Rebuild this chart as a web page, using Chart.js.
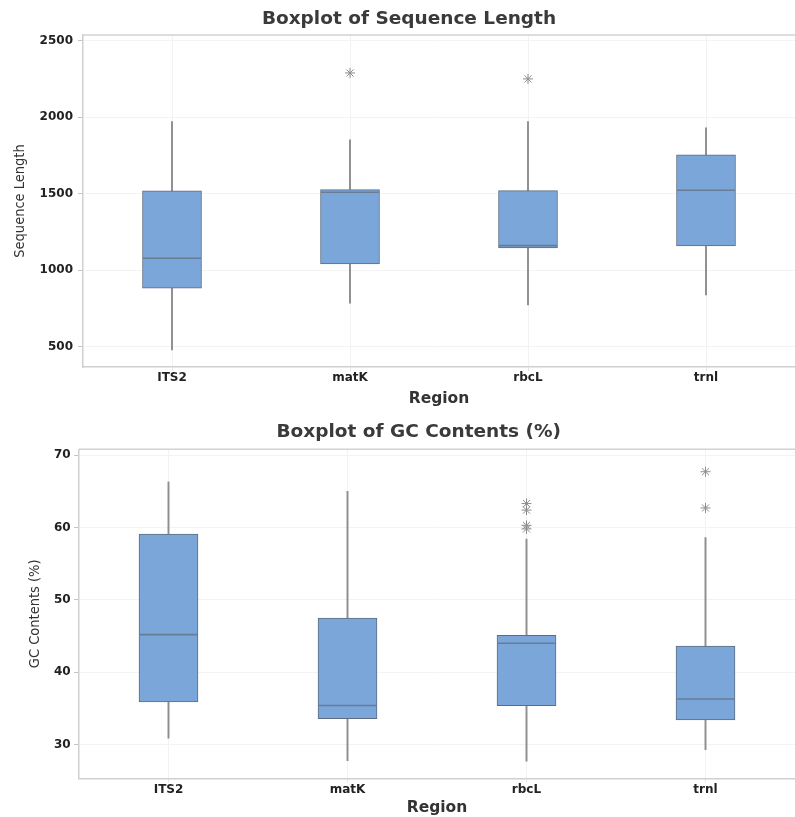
<!DOCTYPE html>
<html>
<head>
<meta charset="utf-8">
<script src="https://cdn.jsdelivr.net/npm/chart.js@4.4.0/dist/chart.umd.min.js"></script>
<style>
  body { margin: 0; background: #fff; }
  canvas { display: block; }
</style>
</head>
<body>
<canvas id="lenChart" width="795" height="410"></canvas>
<canvas id="gcChart" width="795" height="407"></canvas>
<script>
const regions = ['ITS2', 'matK', 'rbcL', 'trnl']

// Sequence length
const lenLow = [478, 784, 772, 838]
const lenQ1 = [882, 1041, 1145, 1158]
const lenMed = [1078, 1509, 1160, 1522]
const lenQ3 = [1518, 1526, 1520, 1753]
const lenHigh = [1971, 1851, 1971, 1931]
const lenOutX = ['matK', 'rbcL']
const lenOutY = [2289, 2250]
const lenTicks = [500, 1000, 1500, 2000, 2500]

// GC contents
const gcLow = [30.9, 27.8, 27.7, 29.3]
const gcQ1 = [35.9, 33.6, 35.4, 33.4]
const gcMed = [45.2, 35.4, 44.0, 36.3]
const gcQ3 = [59.1, 47.5, 45.1, 43.6]
const gcHigh = [66.3, 65.0, 58.4, 58.6]
const gcOutX = ['rbcL', 'rbcL', 'rbcL', 'rbcL', 'trnl', 'trnl']
const gcOutY = [63.3, 62.4, 60.3, 59.8, 67.7, 62.7]
const gcTicks = [30, 40, 50, 60, 70]

// top edge of the plot frame
const frame = {
    id: 'frame',
    afterDraw(chart) {
        const {ctx, chartArea: a} = chart
        ctx.save()
        ctx.strokeStyle = '#d2d2d2'
        ctx.lineWidth = 1.5
        ctx.beginPath()
        ctx.moveTo(a.left, a.top)
        ctx.lineTo(a.right, a.top)
        ctx.stroke()
        ctx.restore()
    }
}

const makeBoxplot = (id, cfg) => {
    const el = document.getElementById(id)
    const whiskers = cfg.low.map((v, i) => [v, cfg.high[i]])
    const boxes = cfg.q1.map((v, i) => [v, cfg.q3[i]])
    const outliers = cfg.outX.map((x, i) => ({x: x, y: cfg.outY[i]}))

    new Chart(el, {
        type: 'bar',
        data: {
          labels: regions,
          datasets: [{
            data: whiskers,
            backgroundColor: '#8f8f8f',
            barThickness: 1.3,
            grouped: false,
            order: 3
          }, {
            data: boxes,
            backgroundColor: '#7ba6d9',
            borderColor: '#5d6c82',
            borderWidth: 1,
            borderSkipped: false,
            barThickness: 59,
            grouped: false,
            order: 2
          }, {
            type: 'line',
            data: cfg.med,
            showLine: false,
            pointStyle: 'line',
            pointRadius: 29,
            pointBorderColor: '#687c96',
            pointBorderWidth: 1.6,
            order: 1
          }, {
            type: 'line',
            data: outliers,
            showLine: false,
            pointStyle: 'star',
            pointRadius: 5,
            pointBorderColor: '#8c8c8c',
            pointBorderWidth: 1,
            order: 0
          }]
        },
        options: {
          responsive: false,
          animation: false,
          events: [],
          layout: { autoPadding: false, padding: { left: cfg.padLeft, right: 0, top: 0, bottom: 0 } },
          plugins: {
            legend: { display: false },
            tooltip: { enabled: false },
            title: {
              display: true,
              text: cfg.title,
              color: '#3a3a3a',
              font: { family: 'DejaVu Sans', size: 18.5, weight: 'bold', lineHeight: 1.2 },
              padding: cfg.titlePad
            }
          },
          scales: {
            x: {
              grid: { offset: false, color: '#f2f2f2', tickColor: '#e6e6e6', tickLength: 4 },
              border: { color: '#d0d0d0', width: 1.5 },
              ticks: {
                color: '#222',
                padding: 0,
                font: { family: 'DejaVu Sans', size: 12, weight: 'bold' }
              },
              title: {
                display: true,
                text: 'Region',
                color: '#333',
                font: { family: 'DejaVu Sans', size: 15.5, weight: 'bold', lineHeight: 1.2 },
                padding: { top: 0, bottom: cfg.regionPad }
              },
              afterFit: (scale) => { scale.height = cfg.xHeight }
            },
            y: {
              min: cfg.min,
              max: cfg.max,
              grid: { color: '#f3f3f3', tickColor: '#c4c4c4', tickLength: 5 },
              border: { color: '#d0d0d0', width: 1.5 },
              ticks: {
                color: '#222',
                padding: cfg.tickPad,
                font: { family: 'DejaVu Sans', size: 12, weight: 'bold' },
                callback: (v) => String(v)
              },
              afterBuildTicks: (scale) => { scale.ticks = cfg.ticks.map((v) => ({value: v})) },
              title: {
                display: true,
                text: cfg.yTitle,
                color: '#333',
                font: { family: "'Liberation Sans Narrow', 'DejaVu Sans Condensed', sans-serif", size: 14.5, lineHeight: 1.2 },
                padding: { top: cfg.yTitlePad, bottom: 0 }
              },
              afterFit: (scale) => { scale.width = cfg.yWidth }
            }
          }
        },
        plugins: [frame]
    })
}

makeBoxplot('lenChart', {
    title: 'Boxplot of Sequence Length',
    yTitle: 'Sequence Length',
    low: lenLow, q1: lenQ1, med: lenMed, q3: lenQ3, high: lenHigh,
    outX: lenOutX, outY: lenOutY, ticks: lenTicks,
    min: 367, max: 2537,
    padLeft: 23, yWidth: 60, yTitlePad: -11.7, tickPad: 5,
    titlePad: { top: 7.9, bottom: 4.9 },
    xHeight: 43, regionPad: 2
})

makeBoxplot('gcChart', {
    title: 'Boxplot of GC Contents (%)',
    yTitle: 'GC Contents (%)',
    low: gcLow, q1: gcQ1, med: gcMed, q3: gcQ3, high: gcHigh,
    outX: gcOutX, outY: gcOutY, ticks: gcTicks,
    min: 25.35, max: 70.8,
    padLeft: 42.4, yWidth: 36.6, yTitlePad: -15.6, tickPad: 3.3,
    titlePad: { top: 10.9, bottom: 6.2 },
    xHeight: 38.7, regionPad: 0
})
</script>
</body>
</html>
